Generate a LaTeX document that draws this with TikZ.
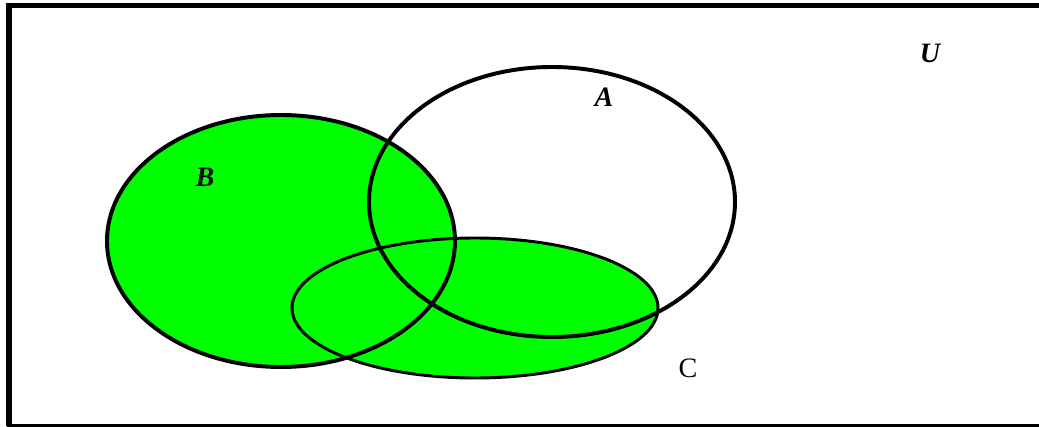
\documentclass[tikz,border=0pt]{standalone}
\usepackage{fontspec}
\setmainfont{Liberation Serif}
\usetikzlibrary{shapes.geometric}
\definecolor{vgreen}{RGB}{0,255,0}

\begin{document}
\begin{tikzpicture}[
    x=0.025cm, y=-0.025cm,
    outline/.style={draw=black, line width=2.8pt},
    setlabel/.style={font=\fontsize{20}{24}\selectfont\bfseries\itshape}
]
\useasboundingbox (0,0) rectangle (1039,427);

% Universe frame
\draw[line width=3.6pt] (1060,5.5) -- (9,5.5) -- (9,426);
\draw[line width=1.8pt] (7,425.5) -- (1060,425.5);

% Set centres
\coordinate (cA) at (552,202);
\coordinate (cB) at (281,241);
\coordinate (cC) at (475,308);

% Shaded region
\fill[vgreen] (cB) ellipse [x radius=174, y radius=126];
\fill[vgreen] (cC) ellipse [x radius=183, y radius=70];

% Outlines
\draw[outline] (cB) ellipse [x radius=174, y radius=126];
\draw[outline, line width=2.1pt] (cC) ellipse [x radius=183, y radius=70];
\draw[outline] (cA) ellipse [x radius=183, y radius=135];

% Labels
\node[setlabel] (U) at (930,53) {U};
\node[setlabel] (A) at (604,97) {A};
\node[setlabel] (B) at (205,177) {B};
\node[font=\fontsize{20}{24}\selectfont] (C) at (688,368) {C};

\end{tikzpicture}
\end{document}
